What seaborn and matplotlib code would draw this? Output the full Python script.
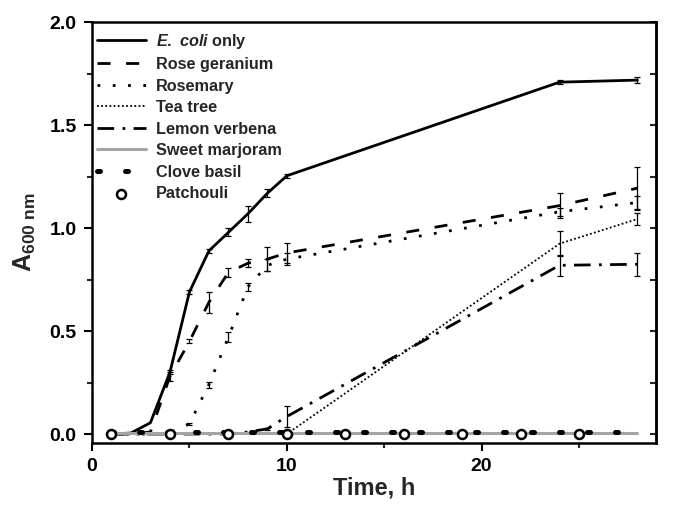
import numpy as np
import matplotlib
matplotlib.use("Agg")
import matplotlib.pyplot as plt
import seaborn as sns
from matplotlib.ticker import MultipleLocator

# ---------------- data ----------------
time_h = [1, 2, 3, 4, 5, 6, 7, 8, 9, 10, 24, 28]

ecoli = [0.0, 0.005, 0.055, 0.30, 0.69, 0.89, 0.98, 1.07, 1.17, 1.255, 1.71, 1.72]
ecoli_err = [0, 0, 0, 0.01, 0.01, 0.01, 0.02, 0.04, 0.02, 0.01, 0.01, 0.015]

rose_geranium = [0.0, 0.0, 0.01, 0.28, 0.45, 0.64, 0.785, 0.83, 0.85, 0.88, 1.11, 1.195]
rose_geranium_err = [0, 0, 0, 0.02, 0.01, 0.05, 0.02, 0.02, 0.06, 0.05, 0.06, 0.105]

rosemary = [0.0, 0.0, 0.0, 0.005, 0.05, 0.24, 0.47, 0.715, 0.82, 0.85, 1.08, 1.125]
rosemary_err = [0, 0, 0, 0, 0.005, 0.015, 0.025, 0.02, 0.03, 0.03, 0.02, 0.03]

tea_tree = [0.0, 0.0, 0.0, 0.0, 0.0, 0.0, 0.0, 0.0, 0.0, 0.0, 0.925, 1.045]
tea_tree_err = [0, 0, 0, 0, 0, 0, 0, 0, 0, 0.01, 0.06, 0.03]

lemon_verbena = [0.0, 0.0, 0.0, 0.0, 0.0, 0.0, 0.0, 0.01, 0.025, 0.085, 0.82, 0.825]
lemon_verbena_err = [0, 0, 0, 0, 0, 0, 0, 0, 0.005, 0.05, 0.05, 0.055]

sweet_marjoram = [0.006, 0.006, 0.006, 0.006, 0.006, 0.006, 0.006, 0.006, 0.006, 0.006, 0.006, 0.006]

clove_basil = [0.01, 0.01, 0.01, 0.01, 0.01, 0.01, 0.01, 0.01, 0.01, 0.01, 0.01, 0.01]

patchouli_time = [1, 4, 7, 10, 13, 16, 19, 22, 25]
patchouli = [0.0, 0.0, 0.0, 0.0, 0.0, 0.0, 0.0, 0.0, 0.0]

x_ticks = [0, 10, 20]
y_ticks = [0.0, 0.5, 1.0, 1.5, 2.0]

# ---------------- style ----------------
sns.set_style("ticks")
plt.rcParams["font.family"] = ["Liberation Sans", "DejaVu Sans"]
plt.rcParams["font.weight"] = "bold"
plt.rcParams["mathtext.fontset"] = "custom"
plt.rcParams["mathtext.rm"] = "Liberation Sans"
plt.rcParams["mathtext.it"] = "Liberation Sans:italic:bold"
plt.rcParams["mathtext.bf"] = "Liberation Sans:bold"

fig = plt.figure(figsize=(6.73, 5.11), dpi=100)
ax = fig.add_axes([0.1367, 0.1337, 0.8380, 0.8223])

series = [
    ("$E.\\ coli$ only", ecoli, ecoli_err, dict(color="black", linewidth=2.0, linestyle="-")),
    ("Rose geranium", rose_geranium, rose_geranium_err,
     dict(color="black", linewidth=2.0, linestyle=(0, (4.7, 5.6)))),
    ("Rosemary", rosemary, rosemary_err,
     dict(color="black", linewidth=2.0, linestyle=(0, (1.0, 4.5)))),
    ("Tea tree", tea_tree, tea_tree_err,
     dict(color="black", linewidth=1.3, linestyle=(0, (1.0, 1.3)))),
    ("Lemon verbena", lemon_verbena, lemon_verbena_err,
     dict(color="black", linewidth=2.0, linestyle=(0, (6.0, 3.0, 1.0, 3.0)))),
    ("Sweet marjoram", sweet_marjoram, None,
     dict(color="#a4a4a4", linewidth=2.2, linestyle="-")),
    ("Clove basil", clove_basil, None,
     dict(color="black", linewidth=3.6, linestyle=(0, (0.6, 5.0)), dash_capstyle="round")),
]

for label, vals, err, kw in series:
    sns.lineplot(x=time_h, y=vals, ax=ax, label=label, zorder=3, **kw)
    if err is not None:
        t = np.array(time_h, dtype=float)
        v = np.array(vals, dtype=float)
        e = np.array(err, dtype=float)
        m = e > 0
        ax.errorbar(t[m], v[m], yerr=e[m], fmt="none", ecolor="black",
                    elinewidth=0.9, capsize=2.5, capthick=0.9, zorder=4)

sns.scatterplot(x=patchouli_time, y=patchouli, ax=ax, marker="o", s=42,
                facecolor="white", edgecolor="black", linewidth=1.8,
                label="Patchouli", zorder=5)

# ---------------- axes ----------------
ax.set_xlim(0, 28.95)
ax.set_ylim(-0.042, 2.0)
ax.set_xticks(x_ticks)
ax.set_yticks(y_ticks)
ax.xaxis.set_minor_locator(MultipleLocator(5))
ax.yaxis.set_minor_locator(MultipleLocator(0.25))
ax.yaxis.set_major_formatter(matplotlib.ticker.FormatStrFormatter("%.1f"))

for s in ax.spines.values():
    s.set_visible(True)
    s.set_linewidth(1.8)
    s.set_color("black")

ax.tick_params(axis="both", which="major", direction="out", length=6, width=1.5,
               labelsize=14, pad=5, colors="black")
ax.tick_params(axis="both", which="minor", direction="out", length=3.5, width=1.5)
ax.tick_params(top=False, right=False, which="both")

sec = ax.secondary_yaxis("right")
sec.yaxis.set_major_locator(MultipleLocator(0.25))
sec.tick_params(direction="in", length=4, width=1.5, labelright=False)
sec.spines["right"].set_linewidth(1.8)

ax.set_xlabel("Time, h", fontsize=17, fontweight="bold", labelpad=1)
ax.set_ylabel("A$_{\\mathrm{600\\ nm}}$", fontsize=18, fontweight="bold", labelpad=8)

handles, labels = ax.get_legend_handles_labels()
leg = ax.legend(handles, labels, loc="upper left", bbox_to_anchor=(0.006, 0.982),
                frameon=False, fontsize=11.7,
                handlelength=3.0, handletextpad=0.6, labelspacing=0.4,
                borderaxespad=0.0, borderpad=0.1)

fig.savefig("out.png", dpi=100)
